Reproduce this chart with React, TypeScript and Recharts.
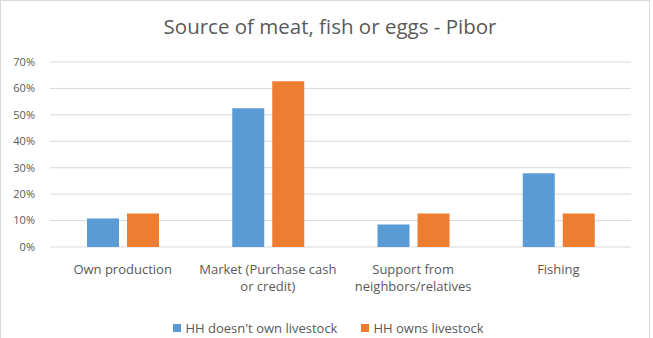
import React from "react";
import { BarChart, Bar, XAxis, YAxis, CartesianGrid, Legend } from "recharts";

const categories = ["Own production", "Market (Purchase cash or credit)", "Support from neighbors/relatives", "Fishing"];
const categoryLines = [["Own production"], ["Market (Purchase cash", "or credit)"], ["Support from", "neighbors/relatives"], ["Fishing"]];
const noLivestock = [0.108, 0.525, 0.085, 0.279];
const ownsLivestock = [0.127, 0.627, 0.127, 0.127];
const yTicks = [0, 0.1, 0.2, 0.3, 0.4, 0.5, 0.6, 0.7];
const seriesNames = ["HH doesn't own livestock", "HH owns livestock"];
const title = "Source of meat, fish or eggs - Pibor";

const data = categories.map((c, i) => ({ name: c, a: noLivestock[i], b: ownsLivestock[i] }));

const FONT = "'Open Sans', Lato, sans-serif";
const TXT = "#595959";

const CatTick = (props: any) => {
  const { x, y, index } = props;
  const lines = categoryLines[index] || [];
  return (
    <text x={x} y={y} textAnchor="middle" fill={TXT} fontSize={13} fontFamily={FONT}>
      {lines.map((l, i) => (
        <tspan key={i} x={x} dy={i === 0 ? 25 : 16.5}>{l}</tspan>
      ))}
    </text>
  );
};

const LegendContent = (props: any) => {
  const { payload } = props;
  return (
    <div style={{ display: "flex", justifyContent: "center", alignItems: "center", paddingTop: 18, paddingLeft: 26, fontSize: 13, fontFamily: FONT, color: TXT, lineHeight: "16px" }}>
      {(payload || []).map((p: any, i: number) => (
        <div key={i} style={{ display: "flex", alignItems: "center", marginLeft: i === 0 ? 0 : 24 }}>
          <span style={{ display: "inline-block", width: 8, height: 8, background: p.color, marginRight: 4 }} />
          <span>{p.value}</span>
        </div>
      ))}
    </div>
  );
};

export default function App() {
  return (
    <div style={{ position: "absolute", left: 0, top: 0, width: 653, height: 338, background: "#fff", fontFamily: FONT }}>
      <div style={{ position: "absolute", left: 0, top: 0, width: 650, height: 345, border: "1px solid #D9D9D9", boxSizing: "border-box" }} />
      <div style={{ position: "absolute", left: 0, top: 12, width: 660, textAlign: "center", fontSize: 20.5, color: TXT, fontFamily: FONT }}>
        {title}
      </div>
      <BarChart width={653} height={338} data={data} margin={{ top: 62, right: 22, bottom: 0, left: 0 }} barSize={32} barGap={8}>
        <CartesianGrid vertical={false} stroke="#D9D9D9" strokeWidth={1} />
        <XAxis dataKey="name" axisLine={false} tickLine={false} tickSize={0} height={55} interval={0} tick={<CatTick />} />
        <YAxis
          width={50}
          domain={[0, 0.7]}
          ticks={yTicks}
          axisLine={false}
          tickLine={false}
          tickSize={0}
          tickMargin={15}
          tickFormatter={(v: number) => `${Math.round(v * 100)}%`}
          tick={{ fill: TXT, fontSize: 11, fontFamily: FONT }}
        />
        <Legend verticalAlign="bottom" height={36} content={<LegendContent />} />
        <Bar dataKey="a" name={seriesNames[0]} fill="#5B9BD5" isAnimationActive={false} />
        <Bar dataKey="b" name={seriesNames[1]} fill="#ED7D31" isAnimationActive={false} />
      </BarChart>
    </div>
  );
}
